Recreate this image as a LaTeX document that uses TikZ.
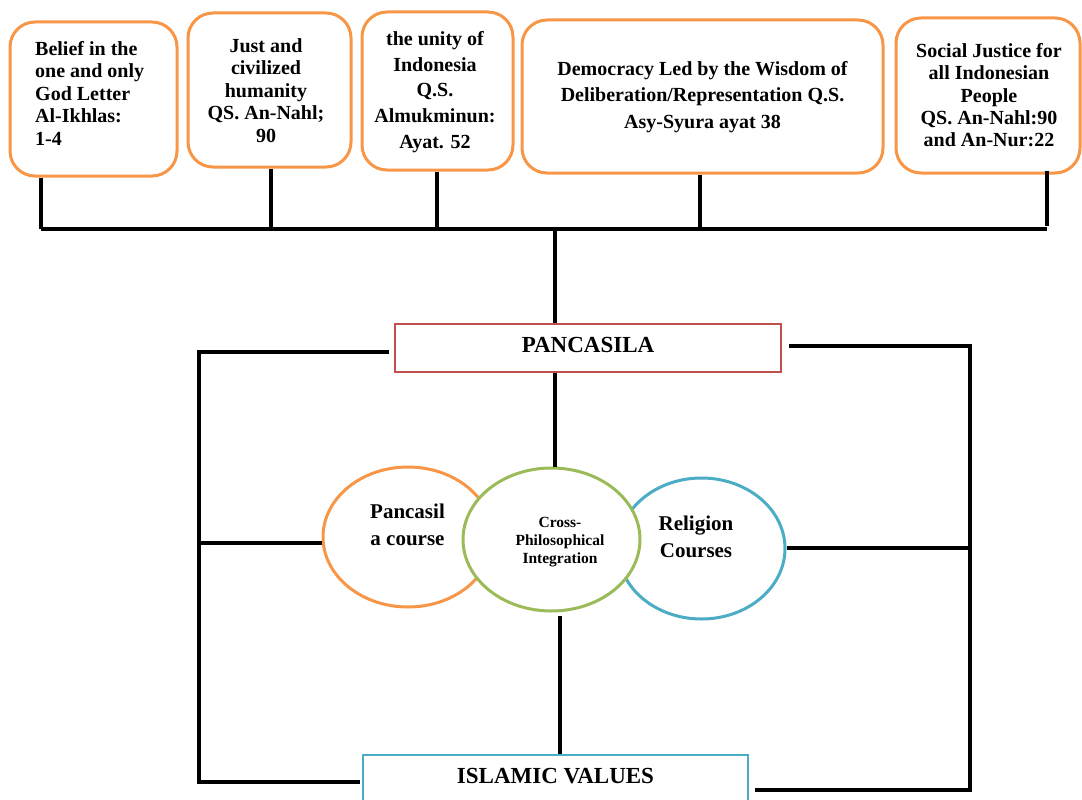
\documentclass[tikz,border=0pt]{standalone}
\usepackage{fontspec}
\setmainfont{Liberation Serif}
\usetikzlibrary{shapes.geometric,calc}
\definecolor{bxorange}{HTML}{F79646}
\definecolor{bxred}{HTML}{C0504D}
\definecolor{bxgreen}{HTML}{9BBB59}
\definecolor{bxblue}{HTML}{4BACC6}
\begin{document}
\begin{tikzpicture}[x=1pt,y=-1pt,
  topbox/.style={draw=bxorange,line width=3pt,rounded corners=25pt,fill=white,inner sep=0pt},
  toptext/.style={inner sep=0pt,font=\bfseries\fontsize{20}{22.4}\selectfont},
  bigbox/.style={draw,line width=2.8pt,fill=white,inner sep=0pt,text height=15pt,font=\bfseries\fontsize{23}{26}\selectfont},
  oval/.style={ellipse,line width=3pt,fill=white,inner sep=0pt},
  ovaltext/.style={inner sep=0pt,align=center,font=\bfseries\fontsize{21}{27}\selectfont},
  link/.style={line width=3.3pt,black}]
\useasboundingbox (0,0) rectangle (1082,800);

% top boxes
\node[topbox,minimum width=167pt,minimum height=154pt] (b1) at (93.5,99) {};
\node[topbox,minimum width=163pt,minimum height=154pt] (b2) at (269.5,90) {};
\node[topbox,minimum width=151pt,minimum height=158pt] (b3) at (437.5,91) {};
\node[topbox,minimum width=361pt,minimum height=153pt] (b4) at (702.5,96.5) {};
\node[topbox,minimum width=184pt,minimum height=155pt] (b5) at (988,95.5) {};

\node[toptext,align=left,anchor=north west] (t1) at (35,41.2) {Belief in the\\one and only\\God Letter\\Al-Ikhlas:\\1-4};
\node[toptext,align=center,anchor=north] (t2) at (266,38.5) {Just and\\civilized\\humanity\\QS. An-Nahl;\\90};
\node[toptext,align=center,anchor=north,font=\bfseries\fontsize{20}{25.8}\selectfont] (t3) at (435,31) {the unity of\\Indonesia\\Q.S.\\Almukminun:\\Ayat. 52};
\node[toptext,align=center,anchor=north,font=\bfseries\fontsize{20}{26.5}\selectfont] (t4) at (702.5,61) {Democracy Led by the Wisdom of\\Deliberation/Representation Q.S.\\Asy-Syura ayat 38};
\node[toptext,align=center,anchor=north] (t5) at (989,43) {Social Justice for\\all Indonesian\\People\\QS. An-Nahl:90\\and An-Nur:22};

% bus
\coordinate (j1) at (41,229);
\coordinate (j2) at (271,229);
\coordinate (j3) at (437,229);
\coordinate (j4) at (700,229);
\coordinate (j5) at (1047,229);
\coordinate (jc) at (555,229);
\draw[link] (b1.south -| j1) -- (j1);
\draw[link] (b2.south -| j2) -- (j2);
\draw[link] (b3.south -| j3) -- (j3);
\draw[link] (b4.south -| j4) -- (j4);
\draw[link] ([yshift=4pt]b5.south -| j5) -- ([yshift=3pt]j5);
\draw[link] (j1) -- (j5);

% Pancasila and Islamic values boxes
\node[bigbox,draw=bxred,minimum width=386pt,minimum height=48pt,text depth=7pt] (p) at (588,348) {PANCASILA};
\node[bigbox,draw=bxblue,minimum width=385pt,minimum height=57pt,text depth=16pt] (isl) at (555.5,783.5) {ISLAMIC VALUES};

\draw[link] (jc) -- (jc |- p.north);

% frame
\coordinate (L1) at (199,352);
\coordinate (L2) at (199,782);
\coordinate (R1) at (970,346);
\coordinate (R2) at (970,790);
\draw[link,shorten <=5pt] (p.west |- L1) -- (L1) -- (L2) -- ([xshift=-2pt]isl.west |- L2);
\draw[link,shorten <=7pt] (p.east |- R1) -- (R1) -- (R2) -- ([xshift=6pt]isl.east |- R2);

% ovals
\node[oval,draw=bxorange,minimum width=170pt,minimum height=140pt] (oc) at (408,537) {};
\node[oval,draw=bxblue,minimum width=167pt,minimum height=141pt] (bc) at (701.5,548.5) {};
\node[oval,draw=bxgreen,minimum width=177pt,minimum height=143pt] (gc) at (551.5,539.5) {};

\node[ovaltext,anchor=north] (ot) at (407.5,503.8) {Pancasil\\a course};
\node[ovaltext,anchor=north] (bt) at (696,515.8) {Religion\\Courses};
\node[ovaltext,anchor=north,font=\bfseries\fontsize{15.5}{18}\selectfont] (gt) at (560,517.5) {Cross-\\Philosophical\\Integration};

\coordinate (M1) at (199,543);
\coordinate (M2) at (970,548);
\draw[link] (M1) -- (oc.west |- M1);
\draw[link] (M2) -- (bc.east |- M2);

\draw[link] (jc |- p.south) -- (jc |- gc.north);
\coordinate (kb) at (560,700);
\draw[link] ([yshift=-3pt]kb |- gc.south) -- (kb |- isl.north);
\end{tikzpicture}
\end{document}
